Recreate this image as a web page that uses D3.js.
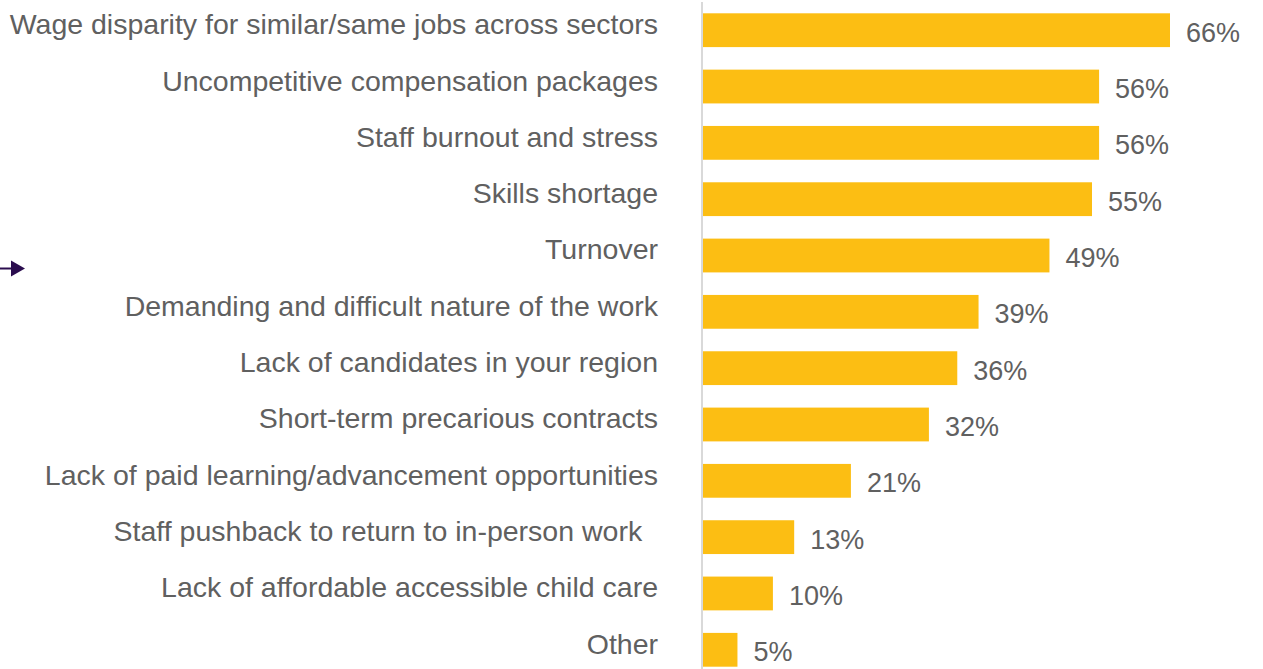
<!DOCTYPE html>
<html><head><meta charset="utf-8">
<script src="https://cdn.jsdelivr.net/npm/d3@7"></script>
<style>body{margin:0;background:#fff;overflow:hidden}svg{display:block}</style>
</head><body>
<svg id="c" width="1263" height="669"></svg>
<script>
const categories = [
  "Wage disparity for similar/same jobs across sectors",
  "Uncompetitive compensation packages",
  "Staff burnout and stress",
  "Skills shortage",
  "Turnover",
  "Demanding and difficult nature of the work",
  "Lack of candidates in your region",
  "Short-term precarious contracts",
  "Lack of paid learning/advancement opportunities",
  "Staff pushback to return to in-person work  ",
  "Lack of affordable accessible child care",
  "Other"
];
const values = [66, 56, 56, 55, 49, 39, 36, 32, 21, 13, 10, 5];
const valueLabels = ["66%","56%","56%","55%","49%","39%","36%","32%","21%","13%","10%","5%"];

const svg = d3.select("#c");
const x0 = 702;
const x = d3.scaleLinear().domain([0, 66]).range([x0, 1170]);
const y = d3.scaleBand().domain(categories).range([13.3, 666.7]).paddingInner(0.4).paddingOuter(0);
const font = "'Liberation Sans', Arial, sans-serif";

svg.append("g").selectAll("rect").data(values).join("rect")
  .attr("x", x(0)).attr("y", (d,i) => y(categories[i]))
  .attr("width", d => x(d) - x(0)).attr("height", y.bandwidth())
  .attr("fill", "#FCBE13");

svg.append("line").attr("x1", x0).attr("x2", x0).attr("y1", 2).attr("y2", 669)
  .attr("stroke", "#d9d9d9").attr("stroke-width", 2);

svg.append("g").selectAll("text").data(categories).join("text")
  .attr("x", 658).attr("y", d => y(d) + y.bandwidth()/2 - 6)
  .attr("dy", "0.35em").attr("text-anchor", "end")
  .attr("xml:space", "preserve").style("white-space", "pre")
  .attr("font-family", font).attr("font-size", 28.5).attr("fill", "#606060")
  .text(d => d);

svg.append("g").selectAll("text").data(values).join("text")
  .attr("x", d => x(d) + 16).attr("y", (d,i) => y(categories[i]) + y.bandwidth()/2 + 2)
  .attr("dy", "0.35em")
  .attr("font-family", font).attr("font-size", 27).attr("fill", "#606060")
  .text((d,i) => valueLabels[i]);

// arrow marker at left
const ay = y(categories[4]) + y.bandwidth()/2 + 13;
svg.append("line").attr("x1", 0).attr("x2", 12).attr("y1", ay).attr("y2", ay)
  .attr("stroke", "#2B0D4F").attr("stroke-width", 2);
svg.append("path").attr("d", d3.line()([[11, ay-8],[25, ay],[11, ay+8]]) + "Z").attr("fill", "#2B0D4F");
</script>
</body></html>
